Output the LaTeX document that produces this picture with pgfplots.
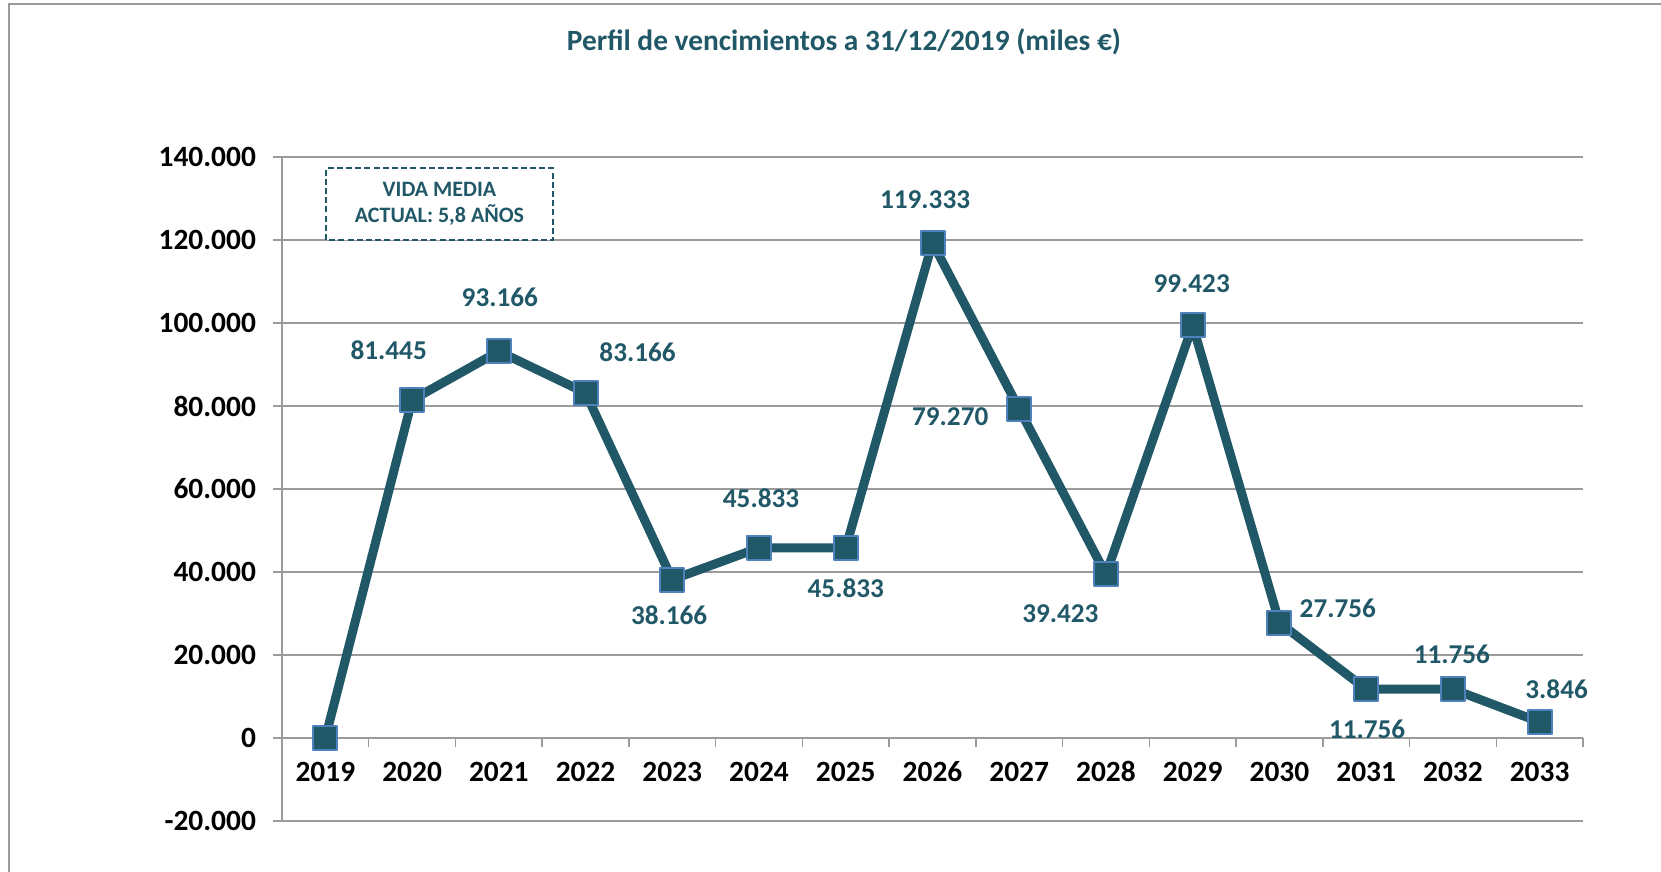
\documentclass[border=0pt]{standalone}
\usepackage{pgfplots}
\pgfplotsset{compat=1.18}
\usepackage{fontspec}
\setmainfont{Carlito}
\definecolor{teal1}{RGB}{33,88,104}
\definecolor{mborder}{RGB}{79,129,189}
\definecolor{gridg}{RGB}{155,155,155}
\begin{document}
\begin{tikzpicture}
\useasboundingbox (-141pt,-25.5pt) rectangle (689.5pt,410.5pt);
\draw[gridg, line width=1pt] (-136.5pt,-40pt) -- (-136.5pt,408.5pt) -- (720pt,408.5pt);
\begin{axis}[at={(0,0)}, anchor=south west, scale only axis, width=650.5pt, height=332pt,
  xmin=-0.5, xmax=14.5, ymin=-20000, ymax=140000,
  axis x line=middle, axis y line=left,
  hide obscured x ticks=false, hide obscured y ticks=false,
  scaled y ticks=false, scaled x ticks=false,
  axis line style={-, gridg, line width=0.75pt},
  xtick={-0.5,0.5,...,14.5}, x tick label as interval,
  xticklabels={2019,2020,2021,2022,2023,2024,2025,2026,2027,2028,2029,2030,2031,2032,2033},
  ytick={-20000,0,20000,40000,60000,80000,100000,120000,140000},
  yticklabels={-20.000,0,20.000,40.000,60.000,80.000,100.000,120.000,140.000},
  ymajorgrids, major grid style={gridg, line width=0.75pt},
  tick align=outside, major tick length=4.5pt,
  tick style={gridg, line width=0.75pt},
  ticklabel style={font=\fontsize{14.7}{17}\selectfont\bfseries, text=black},
  xticklabel style={yshift=-4pt, text height=9.6pt, text depth=0pt},
  yticklabel style={xshift=-5pt},
  clip=false,
]
\addplot[teal1, line width=4.5pt, line join=round, mark=square*, mark size=6pt,
  mark options={fill=teal1, draw=mborder, line width=1pt, solid}] coordinates {
  (0,0) (1,81445) (2,93166) (3,83166) (4,38166) (5,45833) (6,45833) (7,119333)
  (8,79270) (9,39423) (10,99423) (11,27756) (12,11756) (13,11756) (14,3846)};
\tikzset{lbl/.style={text=teal1, font=\fontsize{13.6}{16}\selectfont\bfseries, anchor=center}}
\node[lbl, xshift=-11.7pt, yshift=24.9pt] at (axis cs:1,81445) {81.445};
\node[lbl, xshift=0.5pt, yshift=27pt] at (axis cs:2,93166) {93.166};
\node[lbl, xshift=26pt, yshift=20.1pt] at (axis cs:3,83166) {83.166};
\node[lbl, xshift=-1.6pt, yshift=-18pt] at (axis cs:4,38166) {38.166};
\node[lbl, xshift=1pt, yshift=24.9pt] at (axis cs:5,45833) {45.833};
\node[lbl, xshift=0pt, yshift=-20.1pt] at (axis cs:6,45833) {45.833};
\node[lbl, xshift=-3.7pt, yshift=21.7pt] at (axis cs:7,119333) {119.333};
\node[lbl, xshift=-34.5pt, yshift=-3.7pt] at (axis cs:8,79270) {79.270};
\node[lbl, xshift=-22.8pt, yshift=-19.6pt] at (axis cs:9,39423) {39.423};
\node[lbl, xshift=-0.5pt, yshift=20.7pt] at (axis cs:10,99423) {99.423};
\node[lbl, xshift=29.2pt, yshift=7.4pt] at (axis cs:11,27756) {27.756};
\node[lbl, xshift=0.5pt, yshift=-20.1pt] at (axis cs:12,11756) {11.756};
\node[lbl, xshift=-0.5pt, yshift=17.5pt] at (axis cs:13,11756) {11.756};
\node[lbl, xshift=8.5pt, yshift=16.4pt] at (axis cs:14,3846) {3.846};
\end{axis}
\node[text=teal1, font=\fontsize{14.7}{17}\selectfont\bfseries] at (281pt,389.5pt) {Perfil de vencimientos a 31/12/2019 (miles €)};
\draw[teal1, line width=0.8pt, dash pattern=on 3pt off 1.6pt, fill=white] (22pt,290.5pt) rectangle (135.5pt,326.5pt);
\node[text=teal1, font=\fontsize{11}{13.3}\selectfont\bfseries, align=center] at (78.75pt,308.5pt) {VIDA MEDIA\\ACTUAL: 5,8 AÑOS};
\end{tikzpicture}
\end{document}
